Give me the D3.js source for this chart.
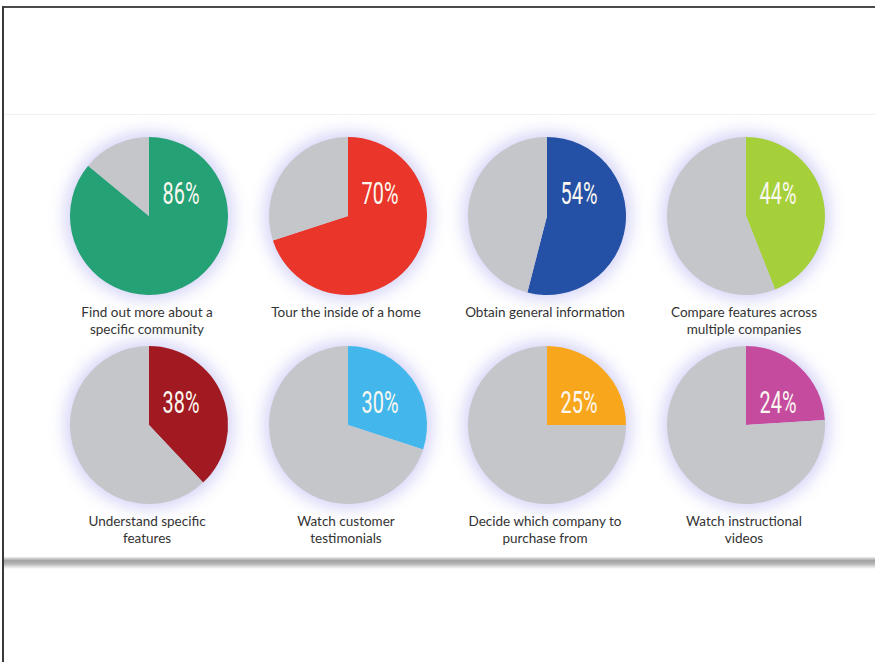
<!DOCTYPE html>
<html>
<head>
<meta charset="utf-8">
<script src="https://cdn.jsdelivr.net/npm/d3@7"></script>
<style>
  html, body { margin: 0; padding: 0; background: #fff; }
  svg { display: block; }
</style>
</head>
<body>
<div id="chart"></div>
<script>
// Data
const labels = [
  ['Find out more about a', 'specific community'],
  ['Tour the inside of a home'],
  ['Obtain general information'],
  ['Compare features across', 'multiple companies'],
  ['Understand specific', 'features'],
  ['Watch customer', 'testimonials'],
  ['Decide which company to', 'purchase from'],
  ['Watch instructional', 'videos']
];
const values = [86, 70, 54, 44, 38, 30, 25, 24];
const colors = ['#25a176', '#e9352a', '#2450a6', '#a5d03a', '#a11a21', '#43b7ec', '#f8a61c', '#c54b9f'];
const restColor = '#c5c6c9';

const W = 875, H = 662;
const svg = d3.select('#chart').append('svg')
  .attr('width', W).attr('height', H);

const defs = svg.append('defs');
const glow = defs.append('filter').attr('id', 'glow')
  .attr('x', '-40%').attr('y', '-40%').attr('width', '180%').attr('height', '180%');
glow.append('feGaussianBlur').attr('stdDeviation', 8);

const shadow = defs.append('linearGradient').attr('id', 'shadow')
  .attr('x1', 0).attr('y1', 0).attr('x2', 0).attr('y2', 1);
shadow.append('stop').attr('offset', '0%').attr('stop-color', '#eeeeee');
shadow.append('stop').attr('offset', '30%').attr('stop-color', '#a2a2a2');
shadow.append('stop').attr('offset', '55%').attr('stop-color', '#b4b4b4');
shadow.append('stop').attr('offset', '100%').attr('stop-color', '#ffffff');

// frame
svg.append('rect').attr('x', 2).attr('y', 6).attr('width', W).attr('height', 2).attr('fill', '#4a4a4a');
svg.append('rect').attr('x', 2).attr('y', 6).attr('width', 2).attr('height', H).attr('fill', '#3a3a3a');
svg.append('rect').attr('x', 4).attr('y', 114).attr('width', W).attr('height', 1).attr('fill', '#f0f0f0');
svg.append('rect').attr('x', 4).attr('y', 557).attr('width', W).attr('height', 12).attr('fill', 'url(#shadow)');

// layout scales
const x = d3.scalePoint().domain(d3.range(4)).range([149, 746]);
const y = d3.scalePoint().domain([0, 1]).range([216, 425]);
const r = 79;

const pie = d3.pie().sort(null).value(d => d);
const arc = d3.arc().innerRadius(0).outerRadius(r);

const cells = svg.selectAll('g.cell')
  .data(values.map((v, i) => ({ v, i })))
  .join('g')
  .attr('class', 'cell')
  .attr('transform', d => `translate(${x(d.i % 4)},${y(Math.floor(d.i / 4))})`);

cells.append('circle')
  .attr('r', r + 5)
  .attr('fill', '#aaa9ef')
  .attr('opacity', 0.5)
  .attr('filter', 'url(#glow)');

cells.selectAll('path')
  .data(d => pie([d.v, 100 - d.v]).map((a, k) => ({ a, k, i: d.i })))
  .join('path')
  .attr('d', d => arc(d.a))
  .attr('fill', d => d.k === 0 ? colors[d.i] : restColor);

cells.append('text')
  .attr('transform', 'translate(32,-12) scale(0.64,1)')
  .attr('text-anchor', 'middle')
  .attr('font-family', 'Roboto, sans-serif')
  .attr('font-size', 31)
  .attr('fill', '#fbf8f0')
  .text(d => values[d.i] + '%');

cells.append('text')
  .attr('text-anchor', 'middle')
  .attr('font-family', 'Lato, sans-serif')
  .attr('font-size', 13.5)
  .attr('fill', '#333')
  .selectAll('tspan')
  .data(d => labels[d.i])
  .join('tspan')
  .attr('x', -2)
  .attr('y', (t, k) => 101 + k * 17)
  .text(t => t);
</script>
</body>
</html>
